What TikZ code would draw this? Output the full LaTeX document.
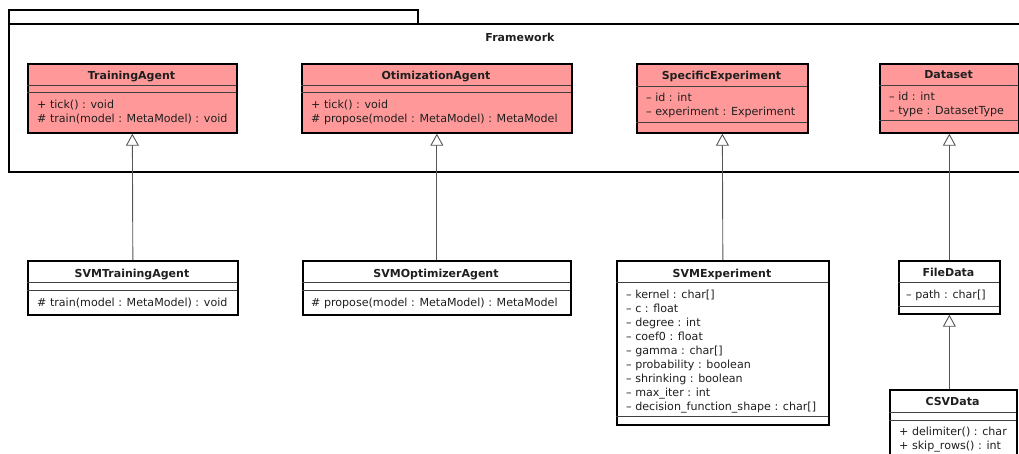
\documentclass[tikz,border=0pt]{standalone}
\usepackage{fontspec}
\setmainfont{DejaVu Sans}
\usetikzlibrary{arrows.meta}
\definecolor{classfill}{RGB}{255,153,153}
\definecolor{linkgray}{RGB}{85,85,85}
\tikzset{
  txt/.style={font=\fontsize{11.1}{13}\selectfont, inner sep=0pt, anchor=west,
    text height=10pt, text depth=1pt, text=black!88},
  ttl/.style={font=\bfseries\fontsize{11}{13}\selectfont, inner sep=0pt,
    text height=10pt, text depth=1pt, text=black!88},
  box/.style={draw=black, line width=1.7pt, inner sep=0pt, anchor=north west},
  abox/.style={box, fill=classfill},
  cbox/.style={box, fill=white},
  sep/.style={draw=black!75, line width=0.8pt},
  gen/.style={draw=linkgray, line width=0.9pt,
    -{Triangle[open, fill=white, length=12pt, width=13pt, line width=0.9pt]}},
  pkg/.style={draw=black, line width=1.3pt},
}
\begin{document}
\begin{tikzpicture}[x=1pt,y=-1pt]
\useasboundingbox (0,0) rectangle (1019,454);
\clip (0,0) rectangle (1019,454);

% package frame
\draw[pkg] (9,10) rectangle (418,24);
\draw[pkg] (9,24) rectangle (1040,172);
\node[ttl] (fw) at (520,37) {Framework};

% abstract classes inside the package
\node[abox, minimum width=209pt, minimum height=69pt] (ta) at (27,63) {};
\draw[sep] (27,85) -- (236,85) (27,92) -- (236,92);
\node[ttl] (tat) at (131.5,75) {TrainingAgent};
\node[txt] (ta1) at (37,104) {+ tick() : void};
\node[txt] (ta2) at (37,118) {\# train(model : MetaModel) : void};

\node[abox, minimum width=270pt, minimum height=69pt] (oa) at (301,63) {};
\draw[sep] (301,85) -- (571,85) (301,92) -- (571,92);
\node[ttl] (oat) at (436,75) {OtimizationAgent};
\node[txt] (oa1) at (311,104) {+ tick() : void};
\node[txt] (oa2) at (311,118) {\# propose(model : MetaModel) : MetaModel};

\node[abox, minimum width=171pt, minimum height=69pt] (se) at (636,63) {};
\draw[sep] (636,86) -- (807,86) (636,122) -- (807,122);
\node[ttl] (set) at (721.5,75) {SpecificExperiment};
\node[txt] (se1) at (646,97) {– id : int};
\node[txt] (se2) at (646,111) {– experiment : Experiment};

\node[abox, minimum width=139pt, minimum height=69pt] (ds) at (879,63) {};
\draw[sep] (879,85) -- (1018,85) (879,120) -- (1018,120);
\node[ttl] (dst) at (948.5,74) {Dataset};
\node[txt] (ds1) at (889,96) {– id : int};
\node[txt] (ds2) at (889,110) {– type : DatasetType};

% concrete classes
\node[cbox, minimum width=210pt, minimum height=54pt] (sta) at (27,260) {};
\draw[sep] (27,282) -- (237,282) (27,290) -- (237,290);
\node[ttl] (stat) at (132,273) {SVMTrainingAgent};
\node[txt] (sta1) at (37,302) {\# train(model : MetaModel) : void};

\node[cbox, minimum width=268pt, minimum height=54pt] (soa) at (302,260) {};
\draw[sep] (302,282) -- (570,282) (302,290) -- (570,290);
\node[ttl] (soat) at (436,273) {SVMOptimizerAgent};
\node[txt] (soa1) at (311,302) {\# propose(model : MetaModel) : MetaModel};

\node[cbox, minimum width=212pt, minimum height=164pt] (sve) at (616,260) {};
\draw[sep] (616,282) -- (828,282) (616,416) -- (828,416);
\node[ttl] (svet) at (722,273) {SVMExperiment};
\foreach \t [count=\i from 0] in {%
  {– kernel : char[]},{– c : float},{– degree : int},{– coef0 : float},
  {– gamma : char[]},{– probability : boolean},{– shrinking : boolean},
  {– max\_iter : int},{– decision\_function\_shape : char[]}}
  \node[txt] (sve\i) at (626,294+14*\i) {\t};

\node[cbox, minimum width=101pt, minimum height=53pt] (fd) at (898,260) {};
\draw[sep] (898,282) -- (999,282) (898,306) -- (999,306);
\node[ttl] (fdt) at (948.5,272) {FileData};
\node[txt] (fd1) at (906,294) {– path : char[]};

\node[cbox, minimum width=127pt, minimum height=90pt] (csv) at (889,389) {};
\draw[sep] (889,412) -- (1016,412) (889,420) -- (1016,420);
\node[ttl] (csvt) at (952.5,401) {CSVData};
\node[txt] (csv1) at (899,431) {+ delimiter() : char};
\node[txt] (csv2) at (899,445) {+ skip\_rows() : int};

% generalisations
\draw[gen] (sta.north) -- (ta.south);
\draw[gen] (soa.north) -- (oa.south);
\draw[gen] (sve.north) -- (se.south);
\draw[gen] (fd.north) -- (ds.south);
\draw[gen] (fd.south |- csv.north) -- (fd.south);
\end{tikzpicture}
\end{document}
